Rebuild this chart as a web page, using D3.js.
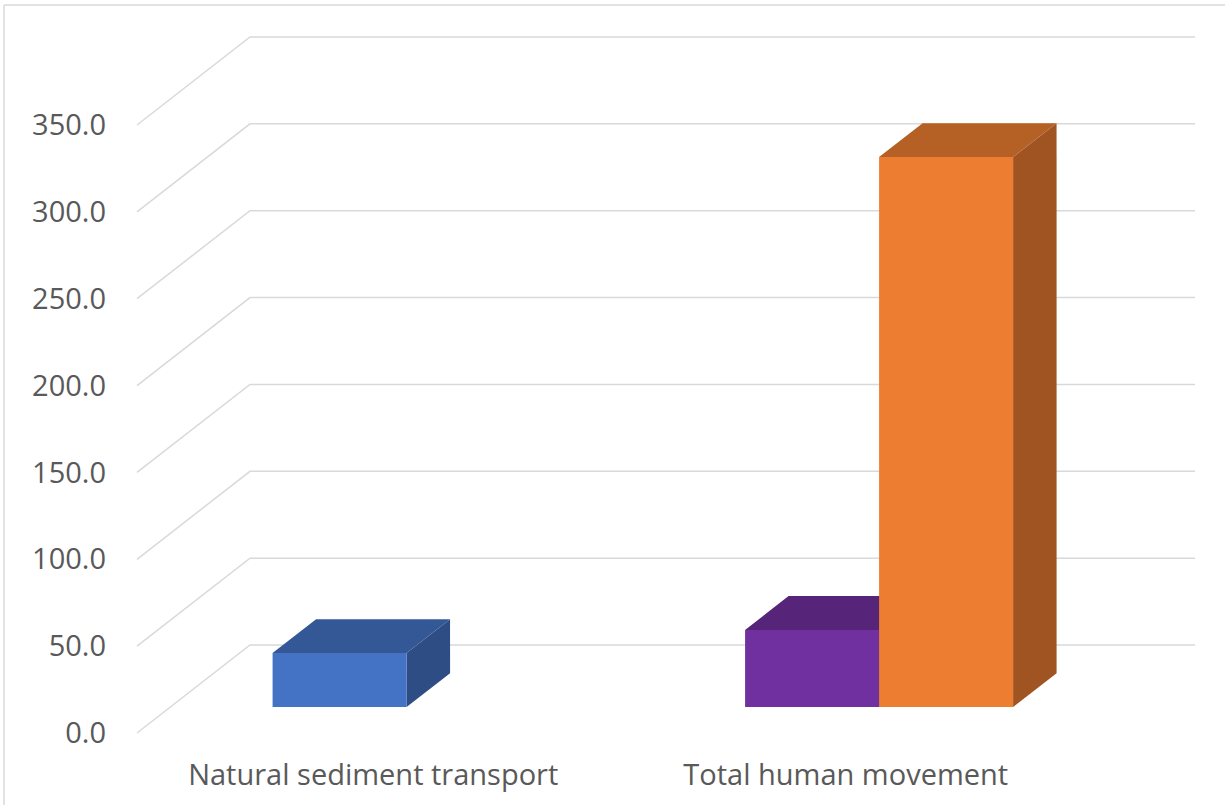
<!DOCTYPE html>
<html>
<head>
<meta charset="utf-8">
<script src="https://cdn.jsdelivr.net/npm/d3@7"></script>
<style>
  body { margin: 0; background: #fff; }
  text { font-family: "Open Sans", sans-serif; fill: #595959; }
</style>
</head>
<body>
<svg id="chart" width="1225" height="805"></svg>
<script>
// data
var categories = ["Natural sediment transport", "Total human movement"];
var seriesA = [31.1, 44.4];      // first bar of each cluster
var seriesB = [null, 316.6];     // second bar (only in the human group)
var colorsA = ["#4472C4", "#7030A0"];
var colorsB = ["#ED7D31", "#ED7D31"];
var yTicks = [0, 50, 100, 150, 200, 250, 300, 350];

var svg = d3.select("#chart");

// frame (only top and left edges show)
svg.append("line").attr("x1", 4).attr("y1", 5).attr("x2", 1225).attr("y2", 5)
    .attr("stroke", "#d9d9d9").attr("stroke-width", 1.5);
svg.append("line").attr("x1", 4).attr("y1", 5).attr("x2", 4).attr("y2", 805)
    .attr("stroke", "#d9d9d9").attr("stroke-width", 1.5);

// oblique projection: depth d in [0,1] shifts right/up
var front = { left: 137, right: 1082 },
    depthX = 113, depthY = -88;

var y = d3.scaleLinear().domain([0, 350]).range([733, 125]);
var x = d3.scaleBand().domain(categories).range([front.left, front.right]);
var inner = d3.scaleBand().domain(["a", "b"]).range([0, 268]);

function proj(px, v, d) {
  return [px + d * depthX, y(v) + d * depthY];
}

// gridlines: side wall diagonal then back wall
var grid = svg.append("g");
yTicks.forEach(function (v) {
  var pts = [proj(front.left, v, 0), proj(front.left, v, 1), proj(front.right, v, 1)];
  grid.append("path")
    .attr("d", d3.line()(pts))
    .attr("fill", "none").attr("stroke", "#d9d9d9").attr("stroke-width", 1.5);
});

// y labels
svg.append("g").selectAll("text").data(yTicks).enter().append("text")
  .attr("x", 106).attr("y", function (d) { return y(d); })
  .attr("dy", "0.35em")
  .attr("text-anchor", "end")
  .style("font-size", "29px")
  .text(d3.format(".1f"));

// category labels
svg.append("g").selectAll("text").data(categories).enter().append("text")
  .attr("x", function (d) { return x(d) + x.bandwidth() / 2; })
  .attr("y", 785)
  .attr("text-anchor", "middle")
  .style("font-size", "29px")
  .text(function (d) { return d; });

// bars
var d0 = 0.295, d1 = 0.68;
var bars = [];
categories.forEach(function (c, i) {
  var left = x(c) + x.bandwidth() / 2 - 134;
  if (seriesA[i] != null) bars.push({ x0: left + inner("a"), w: inner.bandwidth(), v: seriesA[i], color: colorsA[i] });
  if (seriesB[i] != null) bars.push({ x0: left + inner("b"), w: inner.bandwidth(), v: seriesB[i], color: colorsB[i] });
});

var barG = svg.append("g");
var poly = function (pts) { return "M" + pts.join("L") + "Z"; };
bars.forEach(function (b) {
  var x0 = b.x0, x1 = b.x0 + b.w;
  var base = d3.color(b.color);
  var top = base.darker(0.75), side = base.darker(1.1);
  // right side
  barG.append("path")
    .attr("d", poly([proj(x1, 0, d0), proj(x1, 0, d1), proj(x1, b.v, d1), proj(x1, b.v, d0)]))
    .attr("fill", side);
  // top
  barG.append("path")
    .attr("d", poly([proj(x0, b.v, d0), proj(x1, b.v, d0), proj(x1, b.v, d1), proj(x0, b.v, d1)]))
    .attr("fill", top);
  // front
  barG.append("path")
    .attr("d", poly([proj(x0, 0, d0), proj(x1, 0, d0), proj(x1, b.v, d0), proj(x0, b.v, d0)]))
    .attr("fill", b.color);
});
</script>
</body>
</html>
